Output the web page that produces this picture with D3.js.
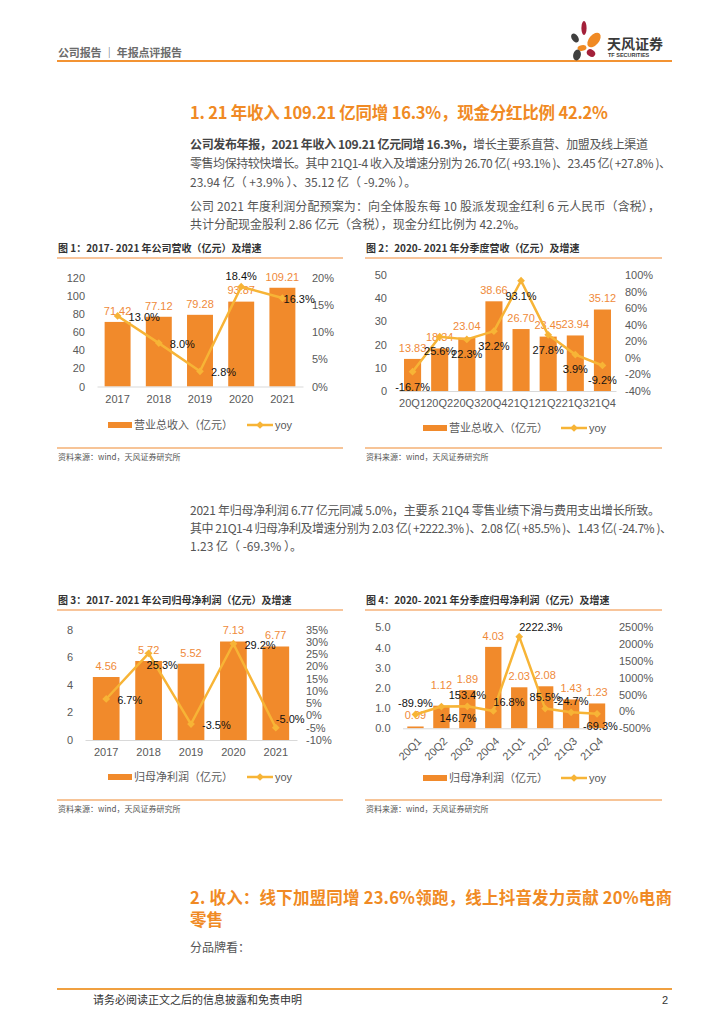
<!DOCTYPE html>
<html>
<head>
<meta charset="utf-8">
<script src="https://cdn.jsdelivr.net/npm/d3@7"></script>
<style>
  body { margin: 0; background: #fff; }
  svg { display: block; }
</style>
</head>
<body>
<script>
// ---------------------------------------------------------
// Data
// ---------------------------------------------------------
const years = ['2017', '2018', '2019', '2020', '2021'];
const quarters = ['20Q1', '20Q2', '20Q3', '20Q4', '21Q1', '21Q2', '21Q3', '21Q4'];

// Fig 1: annual revenue (亿元) + yoy %
const revenue = [71.42, 77.12, 79.28, 93.87, 109.21];
const revenueYoy = [13.0, 8.0, 2.8, 18.4, 16.3];
const revLeftTicks = [0, 20, 40, 60, 80, 100, 120];
const revRightTicks = [0, 5, 10, 15, 20];

// Fig 2: quarterly revenue + yoy %
const qRevenue = [13.83, 18.34, 23.04, 38.66, 26.70, 23.45, 23.94, 35.12];
const qRevenueYoy = [-16.7, 25.6, 22.3, 32.2, 93.1, 27.8, 3.9, -9.2];
const qRevLeftTicks = [0, 10, 20, 30, 40, 50];
const qRevRightTicks = [-40, -20, 0, 20, 40, 60, 80, 100];

// Fig 3: annual net profit + yoy %
const netProfit = [4.56, 5.72, 5.52, 7.13, 6.77];
const netProfitYoy = [6.7, 25.3, -3.5, 29.2, -5.0];
const npLeftTicks = [0, 2, 4, 6, 8];
const npRightTicks = [-10, -5, 0, 5, 10, 15, 20, 25, 30, 35];

// Fig 4: quarterly net profit + yoy %
const qNetProfit = [0.09, 1.12, 1.89, 4.03, 2.03, 2.08, 1.43, 1.23];
const qNetProfitYoy = [-89.9, 146.7, 153.4, 16.8, 2222.3, 85.5, -24.7, -69.3];
const qNpLeftTicks = [0, 1, 2, 3, 4, 5];
const qNpRightTicks = [-500, 0, 500, 1000, 1500, 2000, 2500];

// ---------------------------------------------------------
// Style
// ---------------------------------------------------------
const CJK = '"Noto Sans CJK SC", "Noto Sans", sans-serif';
const LAT = '"Liberation Sans", Arial, sans-serif';
const ORANGE = '#F08A24';
const BAR = '#F18A2B';
const BAR_LABEL = '#EF8A3A';
const LINE = '#F7B436';
const TICK = '#595959';
const AXIS = '#D9D9D9';
const BODY = '#555555';

// Excel-like data label placements
const PLACE = {
  r:  { anchor: 'start',  dx: 11, dy: 1 },
  t:  { anchor: 'middle', dx: 0,  dy: -11 },
  b:  { anchor: 'middle', dx: 0,  dy: 15 },
  br: { anchor: 'start',  dx: -2, dy: 12 },
  tr: { anchor: 'start',  dx: 0,  dy: -9 },
};

const svg = d3.select('body').append('svg')
  .attr('width', 724)
  .attr('height', 1024);

function txt(parent, x, y, str, o = {}) {
  const t = parent.append('text')
    .attr('x', x)
    .attr('y', y)
    .attr('dy', '0.35em')
    .attr('font-family', o.family || CJK)
    .attr('font-size', o.size || 12)
    .attr('font-weight', o.weight || 'normal')
    .attr('fill', o.color || BODY)
    .attr('text-anchor', o.anchor || 'start')
    .text(str);
  if (o.len) t.attr('textLength', o.len).attr('lengthAdjust', 'spacing');
  return t;
}

function hline(x1, x2, y, color, w) {
  svg.append('line')
    .attr('x1', x1).attr('x2', x2)
    .attr('y1', y).attr('y2', y)
    .attr('stroke', color)
    .attr('stroke-width', w);
}

// ---------------------------------------------------------
// Page header + logo
// ---------------------------------------------------------
txt(svg, 58, 53, '公司报告 ｜ 年报点评报告', { size: 11, weight: 'bold', color: '#6b6b6b', len: 124 });
hline(57, 672, 61, '#F39333', 2);

const logo = svg.append('g');
const petals = [
  [584, 28, 2.6, 7, 0, '#A3203A'],
  [575, 38, 3.2, 5, -35, '#3F3F3F'],
  [594, 40, 5, 8.5, 40, ORANGE],
  [582, 48, 4.5, 2.8, -10, ORANGE],
  [577, 55, 3.8, 5.5, 15, '#3F3F3F'],
  [591, 53, 4.5, 3.5, 35, '#A3203A'],
];
petals.forEach((p) => {
  logo.append('ellipse')
    .attr('cx', 0).attr('cy', 0)
    .attr('rx', p[2]).attr('ry', p[3])
    .attr('transform', `translate(${p[0]},${p[1]}) rotate(${p[4]})`)
    .attr('fill', p[5]);
});
txt(logo, 607, 44, '天风证券', { size: 14, weight: 'bold', color: '#3a3a3a' });
txt(logo, 608, 55.5, 'TF SECURITIES', { size: 5.5, weight: 'bold', color: '#3a3a3a', family: LAT });

// ---------------------------------------------------------
// Section 1 text
// ---------------------------------------------------------
txt(svg, 190, 113, '1. 21 年收入 109.21 亿同增 16.3%，现金分红比例 42.2%',
  { size: 16.5, weight: 'bold', color: ORANGE, len: 418 });

const l1 = txt(svg, 190, 145, '', { size: 12, len: 458 });
l1.append('tspan').attr('font-weight', 'bold').attr('fill', '#444').text('公司发布年报，2021 年收入 109.21 亿元同增 16.3%，');
l1.append('tspan').text('增长主要系直营、加盟及线上渠道');
txt(svg, 190, 164, '零售均保持较快增长。其中 21Q1-4 收入及增速分别为 26.70 亿( +93.1% )、23.45 亿( +27.8% )、', { size: 12, len: 481 });
txt(svg, 190, 183, '23.94 亿（ +3.9% ）、35.12 亿（ -9.2% ）。', { size: 12 });
txt(svg, 190, 207, '公司 2021 年度利润分配预案为：向全体股东每 10 股派发现金红利 6 元人民币（含税），', { size: 12, len: 470 });
txt(svg, 190, 225, '共计分配现金股利 2.86 亿元（含税），现金分红比例为 42.2%。', { size: 12 });

txt(svg, 190, 511, '2021 年归母净利润 6.77 亿元同减 5.0%，主要系 21Q4 零售业绩下滑与费用支出增长所致。', { size: 12, len: 470 });
txt(svg, 190, 529, '其中 21Q1-4 归母净利及增速分别为 2.03 亿( +2222.3% )、2.08 亿( +85.5% )、1.43 亿( -24.7% )、', { size: 12, len: 482 });
txt(svg, 190, 547, '1.23 亿（ -69.3% ）。', { size: 12 });

// ---------------------------------------------------------
// Figure frames
// ---------------------------------------------------------
function frame(x1, x2, yTop, yBot, title) {
  txt(svg, x1 + 1, yTop - 10, title, { size: 10, weight: 'bold', color: '#333' });
  hline(x1, x2, yTop, '#F6B27A', 1.5);
  hline(x1, x2, yBot, '#F08A30', 1.2);
  txt(svg, x1 + 1, yBot + 9, '资料来源：wind，天风证券研究所', { size: 8, color: '#555' });
}

frame(57, 343, 258, 448, '图 1：2017- 2021 年公司营收（亿元）及增速');
frame(365, 662, 258, 448, '图 2：2020- 2021 年分季度营收（亿元）及增速');
frame(57, 343, 610, 800, '图 3：2017- 2021 年公司归母净利润（亿元）及增速');
frame(365, 662, 610, 800, '图 4：2020- 2021 年分季度归母净利润（亿元）及增速');

// ---------------------------------------------------------
// Combo chart: bars (left axis) + yoy line (right axis)
// ---------------------------------------------------------
function drawCombo(c) {
  const g = svg.append('g');
  const x = d3.scaleBand()
    .domain(c.cats)
    .range(c.xRange)
    .paddingInner(0.37)
    .paddingOuter(0.185);
  const yL = d3.scaleLinear()
    .domain([c.leftTicks[0], c.leftTicks[c.leftTicks.length - 1]])
    .range(c.yRange);
  const yR = d3.scaleLinear()
    .domain([c.rightTicks[0], c.rightTicks[c.rightTicks.length - 1]])
    .range(c.yRange);
  const y0 = c.yRange[0];
  const cx = (cat) => x(cat) + x.bandwidth() / 2;

  // axes
  const gl = g.append('g')
    .attr('transform', `translate(${c.xRange[0]},0)`)
    .call(d3.axisLeft(yL).tickValues(c.leftTicks).tickFormat(c.leftFmt).tickSize(0).tickPadding(12));
  const gr = g.append('g')
    .attr('transform', `translate(${c.xRange[1]},0)`)
    .call(d3.axisRight(yR).tickValues(c.rightTicks).tickFormat((d) => d + '%').tickSize(0).tickPadding(9));
  [gl, gr].forEach((a) => {
    a.select('.domain').remove();
    a.attr('font-family', LAT).attr('font-size', 11).attr('color', TICK);
  });

  // bars
  g.selectAll('rect.bar')
    .data(c.bars)
    .join('rect')
    .attr('class', 'bar')
    .attr('x', (d, i) => x(c.cats[i]))
    .attr('y', (d) => yL(d))
    .attr('width', x.bandwidth())
    .attr('height', (d) => y0 - yL(d))
    .attr('fill', BAR);

  // bottom axis
  const gb = g.append('g')
    .attr('transform', `translate(0,${y0})`)
    .call(d3.axisBottom(x).tickSize(0).tickSizeOuter(0).tickPadding(c.xPad));
  gb.attr('font-family', LAT).attr('font-size', 11).attr('color', TICK);
  gb.select('.domain').attr('stroke', AXIS).attr('stroke-width', 1);
  if (c.rotate) {
    gb.selectAll('.tick text')
      .attr('text-anchor', 'end')
      .attr('y', 0)
      .attr('dy', '0.35em')
      .attr('transform', 'translate(4,11) rotate(-45)');
  }

  // bar value labels (optional extra lift where Excel moved a label)
  const lift = c.barLift || [];
  g.selectAll('text.bv')
    .data(c.bars)
    .join('text')
    .attr('class', 'bv')
    .attr('x', (d, i) => cx(c.cats[i]))
    .attr('y', (d, i) => yL(d) - 11 - (lift[i] || 0))
    .attr('dy', '0.35em')
    .attr('text-anchor', 'middle')
    .attr('font-family', LAT)
    .attr('font-size', 11)
    .attr('fill', BAR_LABEL)
    .text((d) => d.toFixed(2));

  // yoy line + diamond markers
  const pts = c.yoy.map((v, i) => [cx(c.cats[i]), yR(v)]);
  g.append('path')
    .attr('d', d3.line()(pts))
    .attr('fill', 'none')
    .attr('stroke', LINE)
    .attr('stroke-width', 2.5)
    .attr('stroke-linejoin', 'round');
  g.selectAll('path.mk')
    .data(pts)
    .join('path')
    .attr('class', 'mk')
    .attr('d', d3.symbol(d3.symbolSquare, 30))
    .attr('transform', (p) => `translate(${p[0]},${p[1]}) rotate(45)`)
    .attr('fill', LINE);

  // yoy labels
  pts.forEach((p, i) => {
    const pl = PLACE[c.yoyPos[i]];
    const t = g.append('text')
      .attr('x', p[0] + pl.dx)
      .attr('y', p[1] + pl.dy)
      .attr('dy', '0.35em')
      .attr('text-anchor', pl.anchor)
      .attr('font-family', LAT)
      .attr('font-size', 11)
      .attr('fill', '#111')
      .text(c.yoy[i].toFixed(1) + '%');
    if (c.labelMaxX) {
      const bb = t.node().getBBox();
      const over = bb.x + bb.width - c.labelMaxX;
      if (over > 0) t.attr('x', p[0] + pl.dx - over);
    }
  });

  // legend
  const L = c.legend;
  g.append('rect')
    .attr('x', L.x1).attr('y', L.y - 3)
    .attr('width', 24).attr('height', 6)
    .attr('fill', BAR);
  txt(g, L.x1 + 26, L.y, L.label, { size: 11, color: TICK });
  g.append('line')
    .attr('x1', L.x2).attr('x2', L.x2 + 26)
    .attr('y1', L.y).attr('y2', L.y)
    .attr('stroke', LINE).attr('stroke-width', 2.5);
  g.append('path')
    .attr('d', d3.symbol(d3.symbolSquare, 30))
    .attr('transform', `translate(${L.x2 + 13},${L.y}) rotate(45)`)
    .attr('fill', LINE);
  txt(g, L.x2 + 28, L.y, 'yoy', { size: 11, color: TICK, family: LAT });
}

drawCombo({
  cats: years, bars: revenue, yoy: revenueYoy,
  leftTicks: revLeftTicks, rightTicks: revRightTicks, leftFmt: d3.format('d'),
  xRange: [97, 303], yRange: [386.5, 278], xPad: 8.5,
  yoyPos: ['r', 'r', 'r', 't', 'r'], labelMaxX: 315,
  legend: { y: 425, x1: 108, x2: 247, label: '营业总收入（亿元）' },
});

drawCombo({
  cats: quarters, bars: qRevenue, yoy: qRevenueYoy,
  leftTicks: qRevLeftTicks, rightTicks: qRevRightTicks, leftFmt: d3.format('d'),
  xRange: [399, 616], yRange: [391, 275], xPad: 8,
  yoyPos: ['b', 'b', 'b', 'b', 'b', 'b', 'b', 'b'],
  legend: { y: 428, x1: 423, x2: 561, label: '营业总收入（亿元）' },
});

drawCombo({
  cats: years, bars: netProfit, yoy: netProfitYoy,
  leftTicks: npLeftTicks, rightTicks: npRightTicks, leftFmt: d3.format('d'),
  xRange: [85, 297], yRange: [740, 629.5], xPad: 8.5,
  yoyPos: ['r', 'br', 'r', 'r', 'tr'],
  legend: { y: 777, x1: 108, x2: 247, label: '归母净利润（亿元）' },
});

drawCombo({
  cats: quarters, bars: qNetProfit, yoy: qNetProfitYoy,
  leftTicks: qNpLeftTicks, rightTicks: qNpRightTicks, leftFmt: d3.format('.1f'),
  xRange: [402.5, 610], yRange: [728.3, 627.3], xPad: 8, rotate: true,
  yoyPos: ['t', 'br', 't', 'tr', 'tr', 't', 't', 'br'], labelMaxX: 618,
  barLift: [0, 10, 0, 0, 0, 0, 0, 0],
  legend: { y: 778, x1: 423, x2: 561, label: '归母净利润（亿元）' },
});

// ---------------------------------------------------------
// Section 2 heading + footer
// ---------------------------------------------------------
txt(svg, 190, 898, '2. 收入：线下加盟同增 23.6%领跑，线上抖音发力贡献 20%电商',
  { size: 16.5, weight: 'bold', color: ORANGE, len: 482 });
txt(svg, 190, 920, '零售', { size: 16.5, weight: 'bold', color: ORANGE });
txt(svg, 190, 948, '分品牌看：', { size: 12 });

hline(57, 672, 989, '#F0A040', 2);
txt(svg, 93, 1000, '请务必阅读正文之后的信息披露和免责申明', { size: 11, color: '#333' });
txt(svg, 668, 1000, '2', { size: 11, color: '#333', family: LAT, anchor: 'end' });
</script>
</body>
</html>
